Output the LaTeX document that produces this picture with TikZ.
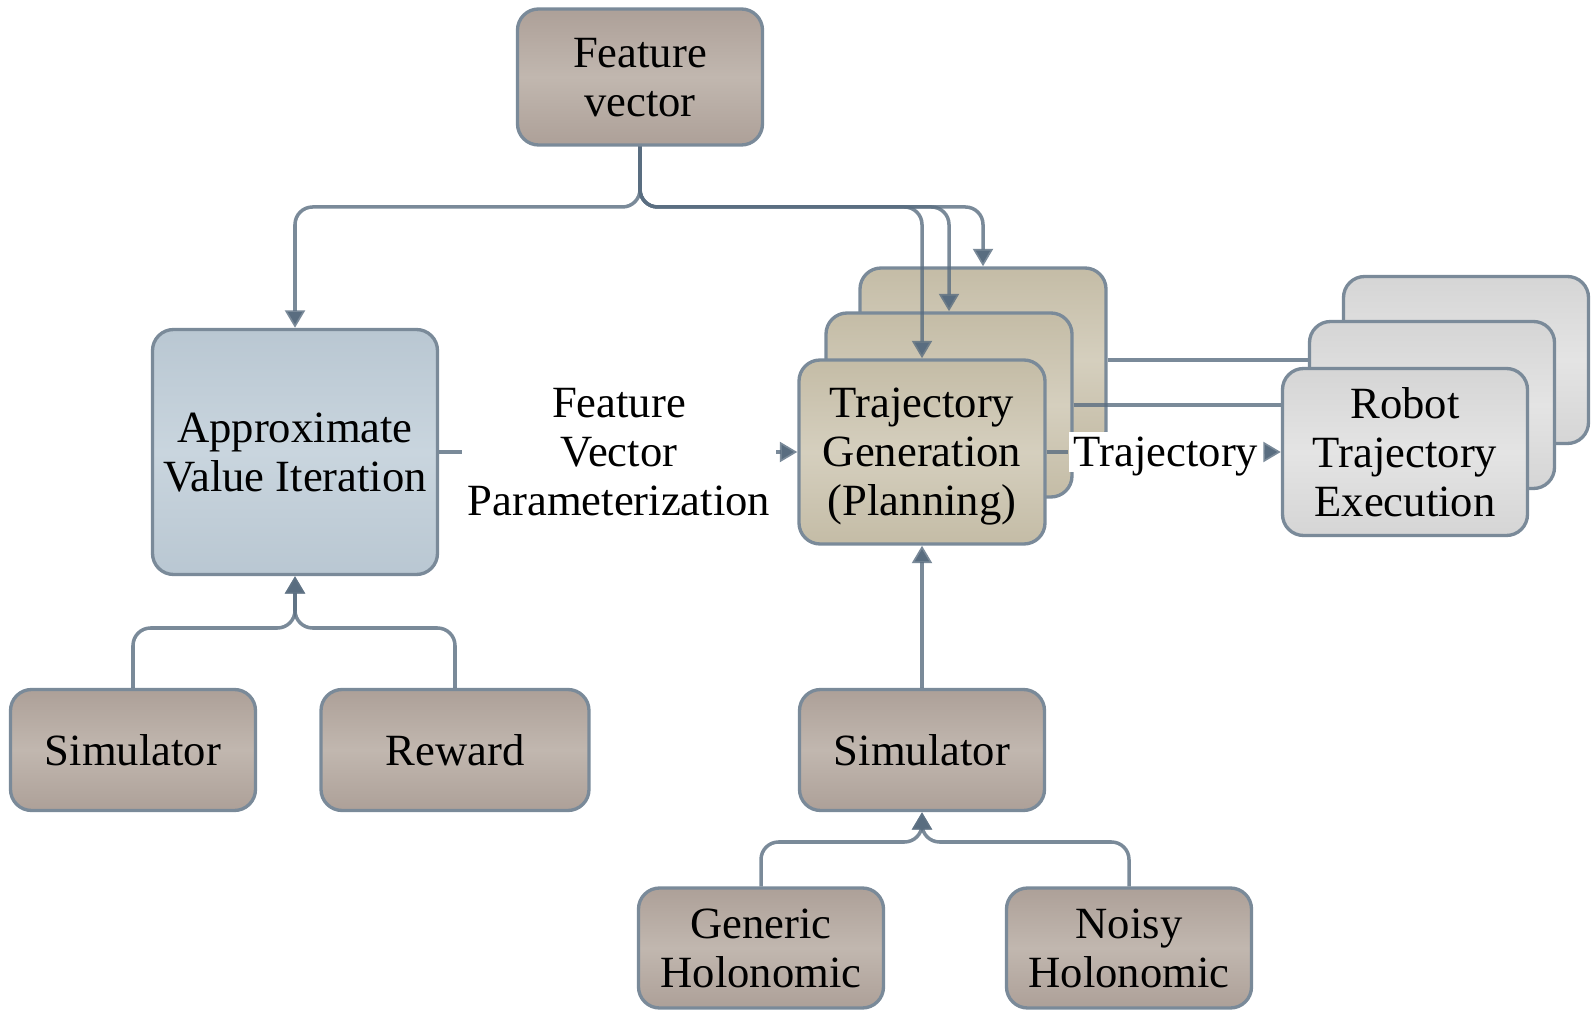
\documentclass[tikz,border=0pt]{standalone}
\usepackage{fontspec}
\setmainfont{Liberation Serif}
\usetikzlibrary{positioning, arrows.meta}

\definecolor{edge}{RGB}{122,138,153}
\definecolor{wire}{RGB}{89,109,128}
\definecolor{taupe}{RGB}{173,160,152}
\definecolor{taupelight}{RGB}{193,183,175}
\definecolor{steel}{RGB}{185,199,210}
\definecolor{steellight}{RGB}{201,213,222}
\definecolor{khaki}{RGB}{196,188,166}
\definecolor{khakilight}{RGB}{213,207,190}
\definecolor{silver}{RGB}{213,213,213}
\definecolor{silverlight}{RGB}{228,228,228}

\begin{document}
\begin{tikzpicture}[
    txt/.style={font=\fontsize{12.7}{13.9}\selectfont, align=center},
    box/.style={txt, draw=edge, line width=0.95pt, rounded corners=6pt, inner sep=0pt, text depth=0pt},
    brownbox/.style={box, top color=taupe, bottom color=taupe, middle color=taupelight},
    bluebox/.style={box, top color=steel, bottom color=steel, middle color=steellight},
    tanbox/.style={box, top color=khaki, bottom color=khaki, middle color=khakilight,
        minimum width=2.46cm, minimum height=1.84cm},
    greybox/.style={box, top color=silver, bottom color=silver, middle color=silverlight,
        minimum width=2.45cm, minimum height=1.67cm},
    small/.style={minimum width=2.45cm, minimum height=1.21cm},
    link/.style={draw=wire, draw opacity=0.8, line width=1pt, rounded corners=5pt},
    arr/.style={link, -{Triangle[length=5pt, width=5.6pt]}},
    tag/.style={txt, fill=white, inner sep=1.5pt}
]
    \useasboundingbox (0,0) rectangle (15.93,10.10);

    % top and left column
    \node[brownbox, minimum width=2.45cm, minimum height=1.36cm] (fv) at (6.40,9.33) {Feature\\vector};
    \node[bluebox, minimum width=2.85cm, minimum height=2.45cm] (avi) at (2.95,5.58) {Approximate\\Value Iteration};
    \node[brownbox, small] (simL) at (1.33,2.60) {Simulator};
    \node[brownbox, small, minimum width=2.68cm] (rew) at (4.55,2.60) {Reward};

    % stacked planners and executors, back to front
    \node[tanbox] (trajC) at (9.83,6.50) {};
    \node[greybox] (robC) at (14.66,6.50) {};
    \draw[link] (trajC.east) -- (robC.west);
    \node[tanbox] (trajB) at (9.49,6.05) {};
    \node[greybox] (robB) at (14.32,6.05) {};
    \draw[link] (trajB.east) -- (robB.west);
    \node[tanbox] (trajA) at (9.22,5.58) {Trajectory\\Generation\\(Planning)};
    \node[greybox] (robA) at (14.05,5.58) {Robot\\Trajectory\\Execution};

    % bottom column
    \node[brownbox, small] (sim) at (9.22,2.60) {Simulator};
    \node[brownbox, small, minimum height=1.20cm] (gen) at (7.61,0.62) {Generic\\Holonomic};
    \node[brownbox, small, minimum height=1.20cm] (noisy) at (11.29,0.62) {Noisy\\Holonomic};

    % feature vector fans out
    \coordinate (bus) at (6.40,8.03);
    \draw[arr] (fv.south) -- (bus) -| (avi.north);
    \draw[arr] (fv.south) -- (bus) -| (trajC.north);
    \draw[arr] (fv.south) -- (bus) -| (trajB.north);
    \draw[arr] (fv.south) -- (bus) -| (trajA.north);

    % parameterization and trajectory hand-off
    \node[tag] (fvp) at (6.19,5.58) {Feature\\Vector\\Parameterization};
    \draw[link] (avi.east) -- (fvp.west);
    \draw[arr] (fvp.east) -- (trajA.west);
    \node[tag, text depth=0pt] (trj) at (11.66,5.58) {Trajectory};
    \draw[link] (trajA.east) -- (trj.west);
    \draw[arr] (trj.east) -- (robA.west);

    % inputs merging from below
    \coordinate (avimerge) at (2.95,3.82);
    \draw[arr] (simL.north) |- (avimerge) -- (avi.south);
    \draw[arr] (rew.north) |- (avimerge) -- (avi.south);
    \draw[arr] (sim.north) -- (trajA.south);
    \coordinate (simmerge) at (9.22,1.68);
    \draw[arr] (gen.north) |- (simmerge) -- (sim.south);
    \draw[arr] (noisy.north) |- (simmerge) -- (sim.south);
\end{tikzpicture}
\end{document}
